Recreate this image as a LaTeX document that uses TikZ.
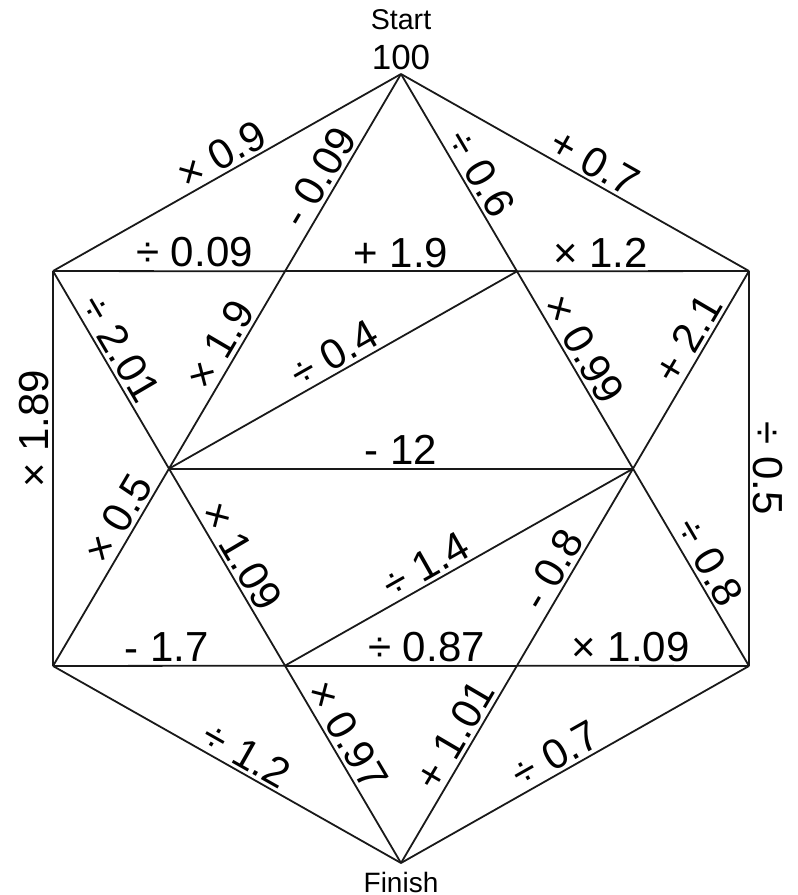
\documentclass[tikz,border=0pt]{standalone}
\usepackage{fontspec}
\setmainfont{Liberation Sans}
\usetikzlibrary{calc}
\begin{document}
\begin{tikzpicture}[x=0.5pt,y=-0.5pt,
  edge/.style={line width=0.9pt,draw=black!90},
  lab/.style={font=\fontsize{21}{21}\selectfont, inner sep=1.5pt},
  slab/.style={lab, sloped, above},
  vlab/.style={lab, anchor=south},
  endlab/.style={inner sep=0pt}
]
\useasboundingbox (0,0) rectangle (798,895);
% outer vertices
\coordinate (T) at (401,74);
\coordinate (F) at (401,863);
\coordinate (LT) at (53,271);
\coordinate (RT) at (749,271);
\coordinate (LB) at (53,666);
\coordinate (RB) at (749,666);
% inner points
\coordinate (A) at ($(T)!1/3!(LB)$);
\coordinate (IL) at ($(T)!2/3!(LB)$);
\coordinate (B) at ($(T)!1/3!(RB)$);
\coordinate (IR) at ($(T)!2/3!(RB)$);
\coordinate (C) at ($(LT)!2/3!(F)$);
\coordinate (D) at ($(RT)!2/3!(F)$);

% hexagon
\draw[edge] (T) -- (LT) node[slab,pos=0.49]{× 0.9};
\draw[edge] (T) -- (RT) node[slab,pos=0.53]{+ 0.7};
\draw[edge] (LT) -- (LB) node[vlab,rotate=90,pos=0.40]{× 1.89};
\draw[edge] (RT) -- (RB) node[vlab,rotate=-90,pos=0.50]{÷ 0.5};
\draw[edge] (LB) -- (F) node[slab,pos=0.53]{÷ 1.2};
\draw[edge] (F) -- (RB) node[slab,pos=0.47]{÷ 0.7};

% horizontals
\draw[edge] (LT) -- (A) node[slab,pos=0.61]{÷ 0.09};
\draw[edge] (A) -- (B) node[slab,pos=0.5]{+ 1.9};
\draw[edge] (B) -- (RT) node[slab,pos=0.36]{× 1.2};
\draw[edge] (IL) -- (IR) node[slab,pos=0.5]{- 12};
\draw[edge] (LB) -- (C) node[slab,pos=0.49]{- 1.7};
\draw[edge] (C) -- (D) node[slab,pos=0.61]{÷ 0.87};
\draw[edge] (D) -- (RB) node[slab,pos=0.49]{× 1.09};

% line T--LB
\draw[edge] (T) -- (A) node[slab,pos=0.57]{- 0.09};
\draw[edge] (A) -- (IL) node[slab,pos=0.42]{× 1.9};
\draw[edge] (IL) -- (LB) node[slab,pos=0.30]{× 0.5};
% line T--RB
\draw[edge] (T) -- (B) node[slab,pos=0.55]{÷ 0.6};
\draw[edge] (B) -- (IR) node[slab,pos=0.44]{× 0.99};
\draw[edge] (IR) -- (RB) node[slab,pos=0.52]{÷ 0.8};
% line LT--F
\draw[edge] (LT) -- (IL) node[slab,pos=0.44]{÷ 2.01};
\draw[edge] (IL) -- (C) node[slab,pos=0.49]{× 1.09};
\draw[edge] (C) -- (F) node[slab,pos=0.40]{× 0.97};
% line RT--F
\draw[edge] (RT) -- (IR) node[slab,pos=0.39]{+ 2.1};
\draw[edge] (IR) -- (D) node[slab,pos=0.56]{- 0.8};
\draw[edge] (D) -- (F) node[slab,pos=0.40]{+ 1.01};
% diagonals
\draw[edge] (IL) -- (B) node[slab,pos=0.5]{÷ 0.4};
\draw[edge] (C) -- (IR) node[slab,pos=0.43]{÷ 1.4};

% start / finish
\node[endlab,font=\fontsize{14.3}{15}\selectfont] (start) at (401,20) {Start};
\node[endlab,font=\fontsize{17.5}{18}\selectfont] (hundred) at (401,57) {100};
\node[endlab,font=\fontsize{14}{15}\selectfont] (finish) at (401,882) {Finish};
\end{tikzpicture}
\end{document}
